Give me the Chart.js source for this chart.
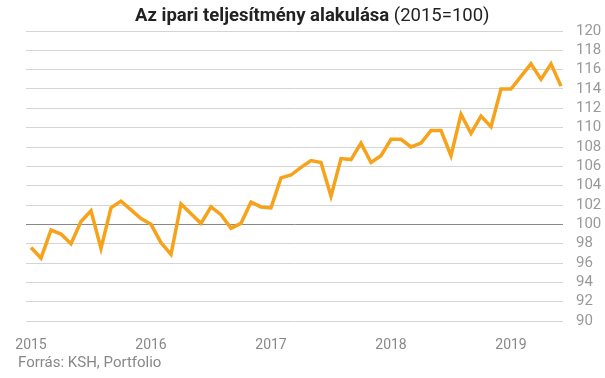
<!DOCTYPE html>
<html>
<head>
<meta charset="utf-8">
<script src="https://cdn.jsdelivr.net/npm/chart.js@4"></script>
<style>
  body { margin: 0; background: #fff; }
  #wrap { position: relative; width: 605px; height: 378px; font-family: Roboto, sans-serif; }
  #title { position: absolute; left: 135px; top: 5px; font-size: 18.5px; line-height: 20px; color: #222; white-space: nowrap; }
  #title b { font-weight: bold; }
  #source { position: absolute; left: 18px; top: 354px; font-size: 15px; line-height: 16px; color: #888; white-space: nowrap; }
  canvas { position: absolute; left: 0; top: 0; }
</style>
</head>
<body>
<div id="wrap">
  <canvas id="myChart" width="605" height="378"></canvas>
  <div id="title"><b>Az ipari teljesítmény alakulása</b> (2015=100)</div>
  <div id="source">Forrás: KSH, Portfolio</div>
</div>
<script>
// havi adatok 2015 januártól 2019 júniusig
var years = ['2015', '2016', '2017', '2018', '2019'];
var values = [97.6, 96.5, 99.4, 99.0, 98.0, 100.3, 101.4, 97.5, 101.7, 102.4, 101.5, 100.6,
              100.0, 98.1, 96.9, 102.1, 101.1, 100.1, 101.8, 101.0, 99.6, 100.1, 102.3, 101.8,
              101.7, 104.8, 105.1, 105.9, 106.6, 106.4, 102.9, 106.8, 106.7, 108.4, 106.4, 107.1,
              108.8, 108.8, 108.0, 108.4, 109.7, 109.7, 107.1, 111.4, 109.4, 111.2, 110.1, 114.0,
              114.0, 115.3, 116.6, 115.0, 116.6, 114.3];
var yTicks = [90, 92, 94, 96, 98, 100, 102, 104, 106, 108, 110, 112, 114, 116, 118, 120];

var points = values.map(function (v, i) { return {x: i, y: v}; });

var ctx = document.getElementById("myChart");
var myChart = new Chart(ctx, {
    type: 'line',
    data: {
        datasets: [{
            label: "Ipari termelés",
            data: points,
            borderColor: "#f7a21b",
            borderWidth: 3.5,
            pointRadius: 0,
            tension: 0,
            fill: false
        }]
    },
    options: {
        responsive: false,
        animation: false,
        devicePixelRatio: 1,
        layout: {padding: {left: 26, top: 31, right: 0, bottom: 0}},
        plugins: {
            legend: {display: false},
            tooltip: {enabled: false}
        },
        scales: {
            x: {
                type: 'linear',
                min: -0.5,
                max: 53.2,
                grid: {display: false},
                border: {display: false},
                afterBuildTicks: function (scale) {
                    scale.ticks = years.map(function (y, i) { return {value: i * 12}; });
                },
                afterFit: function (scale) { scale.height = 57; },
                ticks: {
                    autoSkip: false,
                    maxRotation: 0,
                    padding: 8,
                    color: '#888',
                    font: {family: 'Roboto', size: 14},
                    callback: function (value) { return years[value / 12]; }
                }
            },
            y: {
                position: 'right',
                min: 90,
                max: 120,
                afterBuildTicks: function (scale) {
                    scale.ticks = yTicks.map(function (v) { return {value: v}; });
                },
                afterFit: function (scale) { scale.width = 42; },
                border: {display: false},
                grid: {
                    drawTicks: false,
                    color: function (c) { return c.tick && c.tick.value === 100 ? '#888' : '#d4d4d4'; },
                    lineWidth: 1
                },
                ticks: {
                    autoSkip: false,
                    padding: 13,
                    color: '#999',
                    font: {family: 'Roboto', size: 15}
                }
            }
        }
    }
});
</script>
</body>
</html>
